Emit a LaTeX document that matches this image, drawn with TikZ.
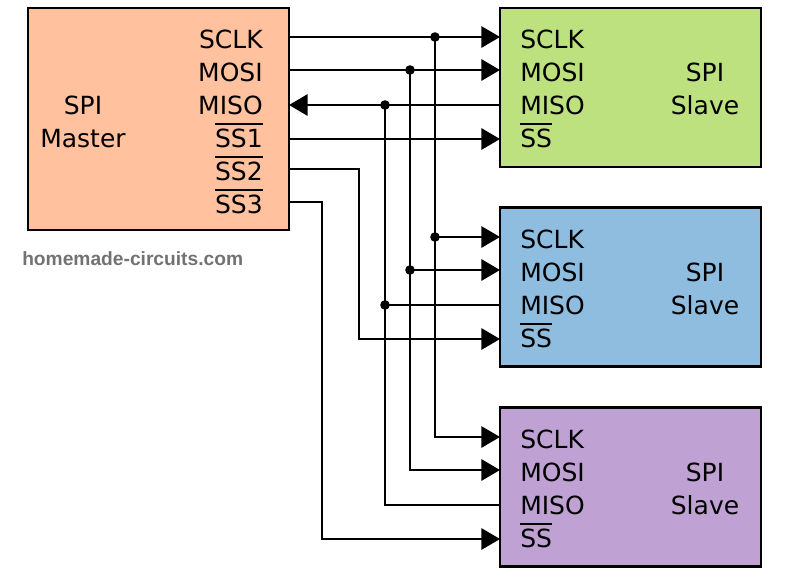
\documentclass[tikz,border=0pt]{standalone}
\usepackage{fontspec}
\setmainfont{DejaVu Sans}
\newfontfamily\markfont{Liberation Sans}
\usetikzlibrary{arrows.meta}

\definecolor{masterfill}{HTML}{FFC19E}
\definecolor{slaveonefill}{HTML}{BCE17E}
\definecolor{slavetwofill}{HTML}{8EBDE0}
\definecolor{slavethreefill}{HTML}{BFA1D3}
\definecolor{markgray}{HTML}{727272}

\newcommand{\ovl}[1]{\leavevmode\vbox{\hrule height 1.4pt\kern 2.6pt\hbox{#1}}}

\tikzset{
    chip/.style={draw=black, line width=1.6pt, minimum width=195.75pt, inner sep=0pt},
    pin/.style={font=\fontsize{18.75pt}{20pt}\selectfont, inner sep=0pt},
    wire/.style={line width=1.6pt},
    sig/.style={wire, -{Triangle[length=14pt,width=16pt]}},
    dot/.style={circle, fill=black, inner sep=0pt, minimum size=7.2pt}
}

\begin{document}
\begin{tikzpicture}[x=0.75pt, y=-0.75pt]

    % Fixes the page to the reference size
    \useasboundingbox (0,0) rectangle (800,576);

    % Draws the master and the three slave blocks
    \node[chip, fill=masterfill, minimum height=166.5pt] (master) at (158.5,119) {};
    \node[chip, fill=slaveonefill, minimum height=119.25pt] (slave1) at (630.5,87.5) {};
    \node[chip, fill=slavetwofill, minimum height=119.25pt] (slave2) at (630.5,287) {};
    \node[chip, fill=slavethreefill, minimum height=119.25pt] (slave3) at (630.5,487) {};

    % Labels of the master block
    \node[pin, anchor=base] (mname) at (83,114) {SPI};
    \node[pin, anchor=base] (mrole) at (83,147) {Master};
    \node[pin, anchor=base east] (lsclk) at (263,48) {SCLK};
    \node[pin, anchor=base east] (lmosi) at (263,81) {MOSI};
    \node[pin, anchor=base east] (lmiso) at (263,114) {MISO};
    \node[pin, anchor=base east] (lssa) at (263,147) {\ovl{SS1}};
    \node[pin, anchor=base east] (lssb) at (263,180) {\ovl{SS2}};
    \node[pin, anchor=base east] (lssc) at (263,213) {\ovl{SS3}};

    % Pins on the right side of the master block
    \coordinate (m-sclk) at (289,37);
    \coordinate (m-mosi) at (289,70);
    \coordinate (m-miso) at (289,105);
    \coordinate (m-ss1) at (289,139);
    \coordinate (m-ss2) at (289,169);
    \coordinate (m-ss3) at (289,202);

    % For each slave block: its pins and its labels
    \foreach \s/\y in {1/0,2/200,3/400} {
        \coordinate (s\s-sclk) at (500,37+\y);
        \coordinate (s\s-mosi) at (500,70+\y);
        \coordinate (s\s-miso) at (500,105+\y);
        \coordinate (s\s-ss) at (500,139+\y);

        \node[pin, anchor=base west] (s\s-lsclk) at (520,48+\y) {SCLK};
        \node[pin, anchor=base west] (s\s-lmosi) at (520,81+\y) {MOSI};
        \node[pin, anchor=base west] (s\s-lmiso) at (520,114+\y) {MISO};
        \node[pin, anchor=base west] (s\s-lss) at (520,147+\y) {\ovl{SS}};
        \node[pin, anchor=base] (s\s-lspi) at (705,81+\y) {SPI};
        \node[pin, anchor=base] (s\s-lslave) at (705,114+\y) {Slave};
    }

    % Junctions of the shared bus lines
    \coordinate (j-sclk) at (435,37);
    \coordinate (j-mosi) at (410,70);
    \coordinate (j-miso) at (385,105);
    \coordinate (k-sclk) at (j-sclk |- s2-sclk);
    \coordinate (k-mosi) at (j-mosi |- s2-mosi);
    \coordinate (k-miso) at (j-miso |- s2-miso);

    % Shared lines from the master to the first slave
    \draw[sig] (m-sclk) -- (s1-sclk);
    \draw[sig] (m-mosi) -- (s1-mosi);
    \draw[sig] (s1-miso) -- (m-miso);
    \draw[sig] (m-ss1) -- (s1-ss);

    % Bus lines running down to the other slaves
    \draw[sig] (j-sclk) |- (s3-sclk);
    \draw[sig] (j-mosi) |- (s3-mosi);
    \draw[wire] (j-miso) |- (s3-miso);
    \draw[sig] (k-sclk) -- (s2-sclk);
    \draw[sig] (k-mosi) -- (s2-mosi);
    \draw[wire] (k-miso) -- (s2-miso);

    % Slave select lines
    \draw[sig] (m-ss2) -| (359,250) |- (s2-ss);
    \draw[sig] (m-ss3) -| (322,400) |- (s3-ss);

    % Dots on the junctions
    \foreach \j in {j-sclk,j-mosi,j-miso,k-sclk,k-mosi,k-miso} {
        \node[dot] at (\j) {};
    }

    % Site mark
    \node[anchor=base west, inner sep=0pt, text=markgray,
          font=\markfont\bfseries\fontsize{14.4pt}{16pt}\selectfont] (mark) at (22,265) {homemade-circuits.com};

\end{tikzpicture}
\end{document}
